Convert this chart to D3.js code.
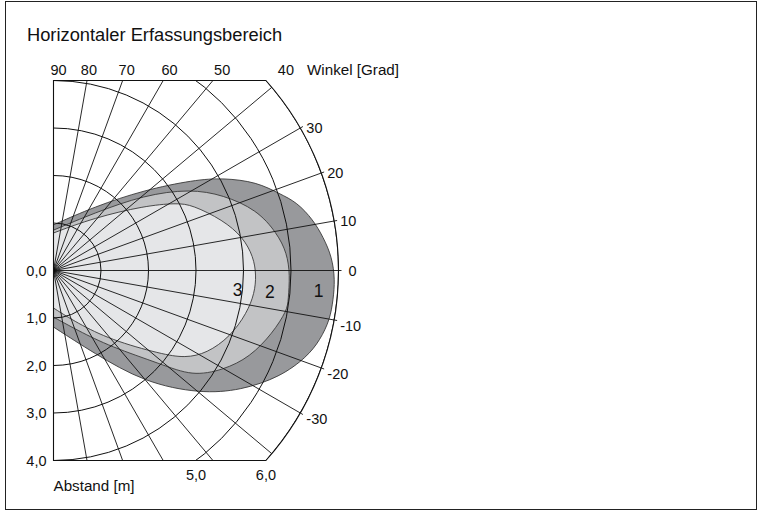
<!DOCTYPE html>
<html>
<head>
<meta charset="utf-8">
<script src="https://cdn.jsdelivr.net/npm/d3@7"></script>
<style>
  html, body { margin: 0; padding: 0; background: #fff; }
  svg { display: block; font-family: "Liberation Sans", Arial, Helvetica, sans-serif; }
</style>
</head>
<body>
<svg id="chart" width="762" height="512"></svg>
<script>
// ---------------- data ----------------
const title = "Horizontaler Erfassungsbereich";
const angleLabel = "Winkel [Grad]";
const distLabel = "Abstand [m]";
const rayAngles = [90, 80, 70, 60, 50, 40, 30, 20, 10, 0, -10, -20, -30, -40, -50, -60, -70, -80, -90];
const rings = [1, 2, 3, 4, 5, 6];
const topAngleTicks = [90, 80, 70, 60, 50, 40];
const rightAngleTicks = [30, 20, 10, 0, -10, -20, -30];
const leftDistTicks = [0, 1, 2, 3, 4];
const bottomDistTicks = [5, 6];
const maxDist = 6;      // outer ring [m]
const sideDist = 4;     // lateral limit of the diagram [m]

// zone boundaries: [angle in degrees, distance in m]
const zone1 = [[90, 0.96], [57.5, 1.59], [41.6, 2.55], [32.8, 3.52], [28.6, 4.07], [23.5, 4.67], [18.7, 5.03],
  [15.7, 5.32], [11.0, 5.57], [7.1, 5.72], [2.8, 5.87], [-1.9, 5.93], [-6.0, 5.92], [-10.1, 5.91],
  [-14.6, 5.80], [-18.8, 5.64], [-25.2, 5.27], [-32.6, 4.68], [-39.9, 4.04], [-50.9, 3.04],
  [-63.9, 1.94], [-90, 1.19]];
const zone2 = [[90, 0.85], [54.8, 1.48], [39.8, 2.48], [30.8, 3.35], [24.0, 3.91], [16.6, 4.47], [9.5, 4.77],
  [4.3, 4.93], [-1.1, 4.98], [-7.2, 4.98], [-9.6, 4.99], [-15.9, 4.80], [-23.8, 4.52], [-30.4, 4.14],
  [-37.3, 3.67], [-41.0, 3.0], [-53.1, 2.01], [-68.4, 1.35], [-90, 0.98]];
const zone3 = [[90, 0.79], [52.4, 1.40], [35.5, 2.34], [28.7, 2.96], [25.3, 3.23], [16.6, 3.72], [10.0, 4.05],
  [3.9, 4.22], [-1.3, 4.27], [-6.4, 4.26], [-12.4, 4.17], [-20.6, 3.97], [-28.3, 3.67], [-33.6, 3.33],
  [-37.8, 2.87], [-50.4, 1.90], [-65.9, 1.21], [-90, 0.79]];
const zoneNames = ["1", "2", "3"];
const zoneColors = ["#98999c", "#c2c3c5", "#e5e6e8"];
// label anchor points in the diagram [angle, distance]
const zoneLabelAt = [[-4.5, 5.6], [-5.8, 4.58], [-6, 3.9]];

// ---------------- drawing ----------------
const svg = d3.select("#chart");
const x0 = 53.5, y0 = 270.5;
const r = d3.scaleLinear().domain([0, maxDist]).range([0, 285]);
const fmt = v => d3.format(".1f")(v).replace(".", ",");
const rad = a => a * Math.PI / 180;
const pt = (a, d) => [x0 + r(d) * Math.cos(rad(a)), y0 - r(d) * Math.sin(rad(a))];

const R = r(maxDist), h = r(sideDist);
const yTop = y0 - h, yBot = y0 + h;
const xCut = x0 + Math.sqrt(R * R - h * h);
const framePath = `M${x0},${yTop}L${xCut},${yTop}A${R},${R} 0 0 1 ${xCut},${yBot}L${x0},${yBot}Z`;

// outer border
svg.append("rect").attr("x", 5.5).attr("y", 1.5).attr("width", 751).attr("height", 508)
  .attr("fill", "none").attr("stroke", "#222").attr("stroke-width", 1);

svg.append("text").attr("x", 27).attr("y", 41).attr("font-size", 18.3).attr("fill", "#111").text(title);

svg.append("defs").append("clipPath").attr("id", "frameClip")
  .append("path").attr("d", framePath);

const plot = svg.append("g").attr("clip-path", "url(#frameClip)");
const pg = plot.append("g").attr("transform", `translate(${x0},${y0})`);

const radial = d3.lineRadial()
  .angle(d => rad(90 - d[0]))
  .radius(d => r(d[1]))
  .curve(d3.curveBasis);

[zone1, zone2, zone3].forEach((z, i) => {
  pg.append("path")
    .attr("d", radial(z) + "Z")
    .attr("fill", zoneColors[i])
    .attr("stroke", "#3a3a3a")
    .attr("stroke-width", 0.9);
});

// rings
pg.selectAll("circle.ring").data(rings).join("circle")
  .attr("class", "ring")
  .attr("r", d => r(d))
  .attr("fill", "none").attr("stroke", "#111").attr("stroke-width", 1);

// rays
pg.selectAll("line.ray").data(rayAngles).join("line")
  .attr("class", "ray")
  .attr("x1", 0).attr("y1", 0)
  .attr("x2", d => r(maxDist) * Math.cos(rad(d)))
  .attr("y2", d => -r(maxDist) * Math.sin(rad(d)))
  .attr("stroke", "#111").attr("stroke-width", 0.9);

// frame outline
svg.append("path").attr("d", framePath).attr("fill", "none").attr("stroke", "#111").attr("stroke-width", 1.1);

// small ticks outside the outer ring
svg.selectAll("line.tick").data(rightAngleTicks).join("line")
  .attr("x1", d => pt(d, maxDist)[0]).attr("y1", d => pt(d, maxDist)[1])
  .attr("x2", d => x0 + (R + 3) * Math.cos(rad(d))).attr("y2", d => y0 - (R + 3) * Math.sin(rad(d)))
  .attr("stroke", "#111").attr("stroke-width", 0.9);

// zone labels
svg.selectAll("text.zone").data(zoneNames).join("text")
  .attr("class", "zone")
  .attr("x", (d, i) => pt(...zoneLabelAt[i])[0])
  .attr("y", (d, i) => pt(...zoneLabelAt[i])[1])
  .attr("text-anchor", "middle").attr("dominant-baseline", "central")
  .attr("font-size", 17.5).attr("fill", "#111").text(d => d);

const fs = 14.5, fsw = 15.2;
const labelY = yTop - 11;
// top angle labels
topAngleTicks.forEach(a => {
  const xt = x0 + (y0 - labelY) / Math.tan(rad(a));
  const end = pt(a, maxDist);
  let x = xt, anchor = "middle";
  if (a === 90) { x = x0 - 3; anchor = "start"; }
  else if (end[1] > yTop) { x = end[0] + 6; anchor = "start"; }
  svg.append("text").attr("x", x).attr("y", labelY).attr("text-anchor", anchor)
    .attr("dominant-baseline", "central").attr("font-size", fs).attr("fill", "#111").text(a);
});
svg.append("text").attr("x", 307).attr("y", labelY).attr("dominant-baseline", "central")
  .attr("font-size", fsw).attr("fill", "#111").text(angleLabel);

// right angle labels
rightAngleTicks.forEach(a => {
  const end = pt(a, maxDist);
  const dx = a === 0 ? 10 : 6;
  const dy = a < 0 ? 6 : 0;
  svg.append("text").attr("x", end[0] + dx).attr("y", end[1] + dy)
    .attr("dominant-baseline", "central").attr("font-size", fs).attr("fill", "#111").text(a);
});

// left distance labels
leftDistTicks.forEach(d => {
  svg.append("text").attr("x", x0 - 7).attr("y", y0 + r(d))
    .attr("text-anchor", "end").attr("dominant-baseline", "central")
    .attr("font-size", fs).attr("fill", "#111").text(fmt(d));
});

// bottom distance labels
bottomDistTicks.forEach(d => {
  const xb = x0 + Math.sqrt(r(d) * r(d) - h * h);
  svg.append("text").attr("x", xb).attr("y", yBot + 14)
    .attr("text-anchor", "middle").attr("dominant-baseline", "central")
    .attr("font-size", fs).attr("fill", "#111").text(fmt(d));
});
svg.append("text").attr("x", x0).attr("y", yBot + 25).attr("dominant-baseline", "central")
  .attr("font-size", fsw).attr("fill", "#111").text(distLabel);
</script>
</body>
</html>
